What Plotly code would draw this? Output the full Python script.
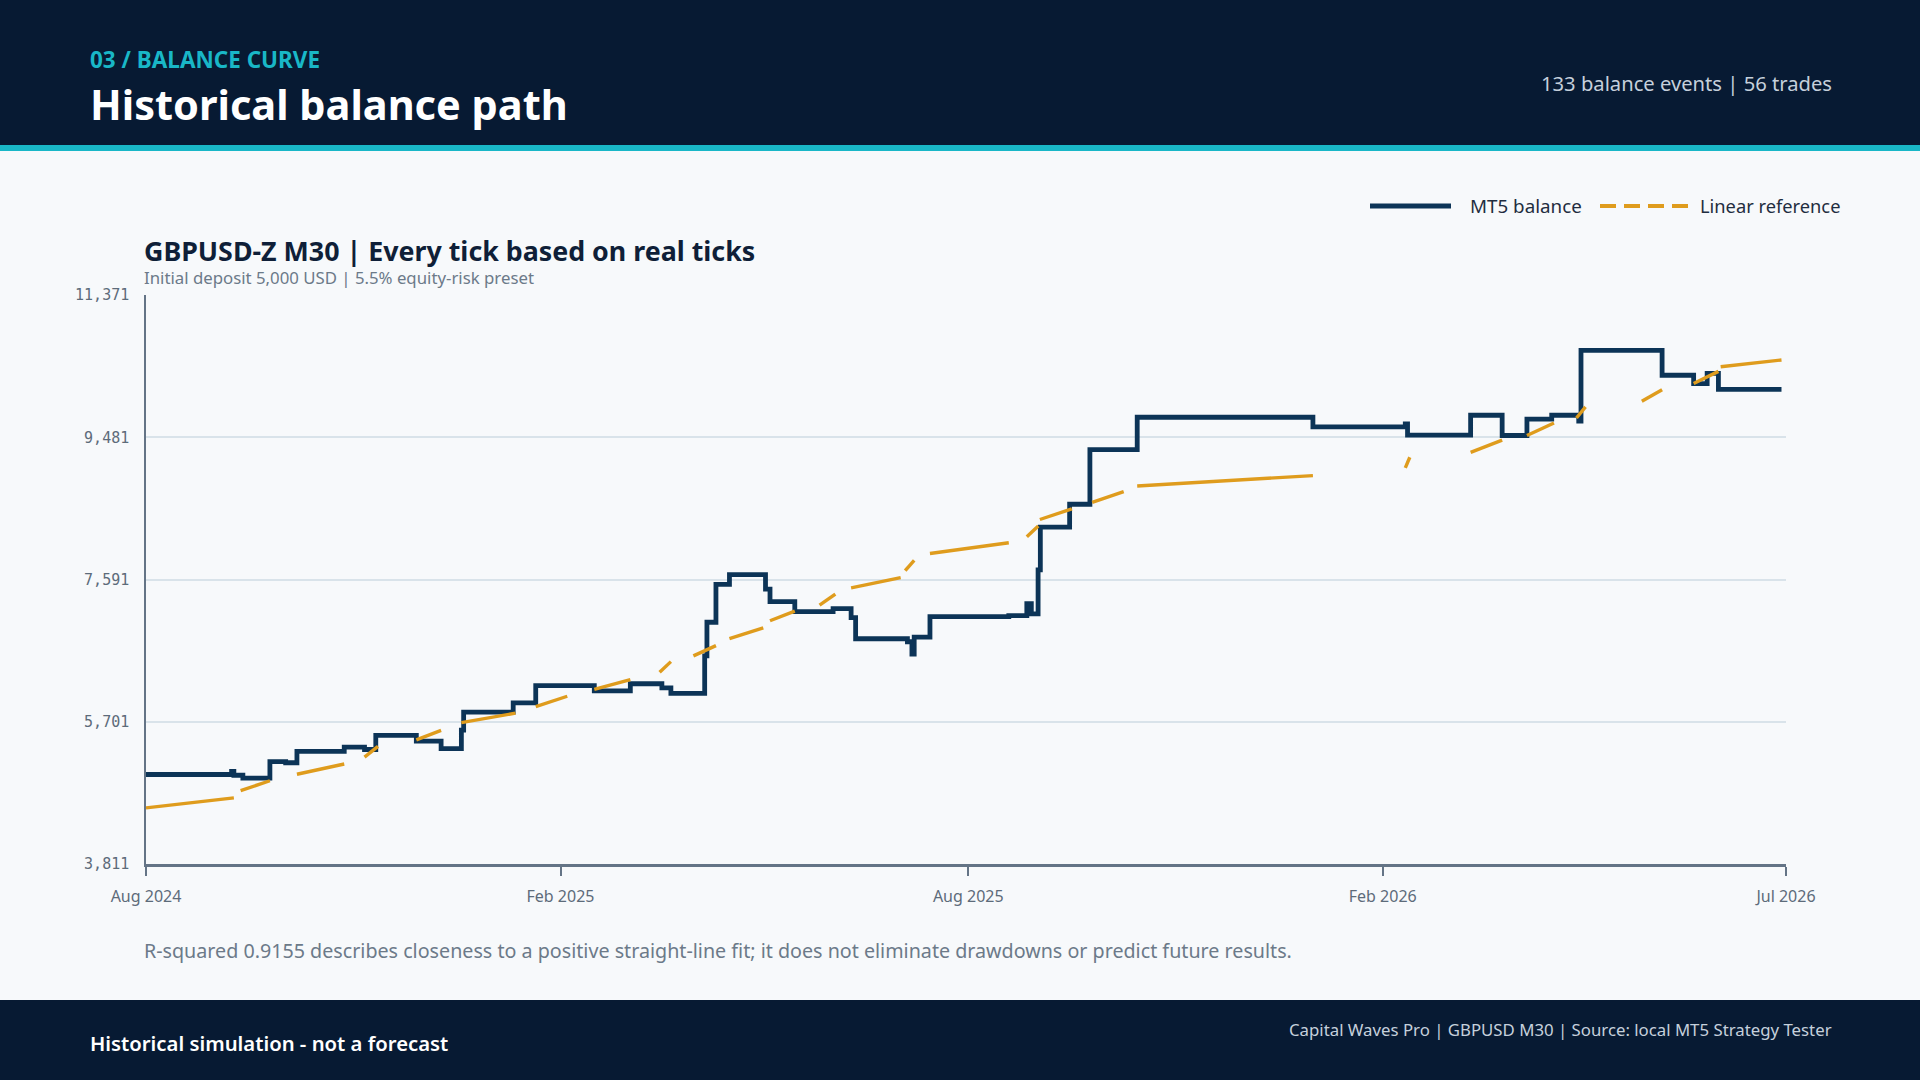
import plotly.graph_objects as go

# MT5 balance events (close dates and balance after each event)
balance_dates = [
    "2024-08-01", "2024-09-08", "2024-09-09", "2024-09-13", "2024-09-25",
    "2024-10-02", "2024-10-07", "2024-10-28", "2024-11-06", "2024-11-11",
    "2024-11-29", "2024-12-10", "2024-12-19", "2024-12-20", "2025-01-11",
    "2025-01-21", "2025-02-16", "2025-03-04", "2025-03-18", "2025-03-22",
    "2025-04-06", "2025-04-07", "2025-04-11", "2025-04-17", "2025-05-03",
    "2025-05-05", "2025-05-16", "2025-06-02", "2025-06-10", "2025-06-12",
    "2025-07-05", "2025-07-07", "2025-07-08", "2025-07-15", "2025-08-19",
    "2025-08-27", "2025-08-29", "2025-09-01", "2025-09-02", "2025-09-15",
    "2025-09-24", "2025-10-15", "2026-01-01", "2026-02-11", "2026-02-12",
    "2026-03-12", "2026-03-26", "2026-04-06", "2026-04-17", "2026-04-29",
    "2026-04-30", "2026-06-05", "2026-06-19", "2026-06-25", "2026-06-30",
    "2026-07-28",
]
balance_values = [
    5000, 5040, 4990, 4952, 5171,
    5156, 5307, 5363, 5332, 5520,
    5444, 5343, 5590, 5830, 5952,
    6181, 6112, 6206, 6150, 6079,
    6576, 7023, 7525, 7657, 7464,
    7297, 7165, 7205, 7084, 6804,
    6764, 6601, 6825, 7099, 7112,
    7271, 7134, 7718, 8286, 8591,
    9316, 9747, 9620, 9660, 9509,
    9773, 9504, 9722, 9773, 9697,
    10635, 10305, 10194, 10331, 10118,
    10118,
]

# linear reference: the visible dash pieces (start, end) as drawn on the chart
ref_start_dates = [
    "2024-08-01", "2024-09-12", "2024-10-07", "2024-11-06", "2024-11-29",
    "2024-12-19", "2025-01-21", "2025-02-16", "2025-03-17", "2025-04-01",
    "2025-04-17", "2025-05-05", "2025-05-27", "2025-06-10", "2025-07-04",
    "2025-07-15", "2025-08-27", "2025-09-01 19:00", "2025-09-25", "2025-10-15",
    "2026-02-11", "2026-03-12", "2026-04-06", "2026-04-28", "2026-05-27",
    "2026-06-19", "2026-07-01",
]
ref_end_dates = [
    "2024-09-09", "2024-09-25", "2024-10-28", "2024-11-12", "2024-12-10",
    "2025-01-12", "2025-02-04", "2025-03-04", "2025-03-22", "2025-04-11",
    "2025-05-02", "2025-05-16", "2025-06-03", "2025-07-02", "2025-07-08",
    "2025-08-19", "2025-09-01 02:00", "2025-09-16", "2025-10-09", "2026-01-01",
    "2026-02-13", "2026-03-26", "2026-04-18", "2026-05-02", "2026-06-05",
    "2026-06-30", "2026-07-28",
]
ref_start_values = [
    4557, 4785, 5003, 5232, 5460,
    5689, 5901, 6130, 6358, 6576,
    6804, 7043, 7251, 7479, 7708,
    7936, 8159, 8388, 8616, 8834,
    9073, 9281, 9504, 9737, 9960,
    10194, 10417,
]
ref_end_values = [
    4689, 4917, 5140, 5374, 5587,
    5815, 6040, 6262, 6500, 6713,
    6947, 7170, 7398, 7616, 7845,
    8080, 8301, 8530, 8758, 8971,
    9215, 9443, 9671, 9884, 10113,
    10356, 10508,
]

y_ticks = [3811, 5701, 7591, 9481, 11371]
x_tick_dates = ["2024-08-01", "2025-02-01", "2025-08-01", "2026-02-01", "2026-07-30"]
x_tick_labels = ["Aug 2024", "Feb 2025", "Aug 2025", "Feb 2026", "Jul 2026"]

NAVY = "#0c3457"
GOLD = "#df9c1d"
DARK = "#071a33"
TEAL = "#19b7c7"
BG = "#f7f9fb"
AXIS = "#647486"
MUTED = "#6c7a89"

# plot area in page pixels
L, R, T, B = 146, 1786, 295, 864


def px_x(x):
    return (x - L) / (R - L)


def px_y(y):
    return (B - y) / (B - T)


# dash pieces joined with gaps
ref_x, ref_y = [], []
for x0, x1, y0, y1 in zip(ref_start_dates, ref_end_dates, ref_start_values, ref_end_values):
    ref_x += [x0, x1, None]
    ref_y += [y0, y1, None]

fig = go.Figure()
fig.add_trace(go.Scatter(
    x=balance_dates, y=balance_values, mode="lines", name="MT5 balance",
    line=dict(color=NAVY, width=4.8, shape="hv"),
))
fig.add_trace(go.Scatter(
    x=ref_x, y=ref_y, mode="lines", name="Linear reference",
    line=dict(color=GOLD, width=3.4), connectgaps=False,
))

shapes = [
    # header band + teal rule
    dict(type="rect", xref="paper", yref="paper", x0=px_x(0), x1=px_x(1920),
         y0=px_y(145), y1=px_y(0), fillcolor=DARK, line_width=0, layer="below"),
    dict(type="rect", xref="paper", yref="paper", x0=px_x(0), x1=px_x(1920),
         y0=px_y(151), y1=px_y(145), fillcolor=TEAL, line_width=0, layer="below"),
    # footer band
    dict(type="rect", xref="paper", yref="paper", x0=px_x(0), x1=px_x(1920),
         y0=px_y(1080), y1=px_y(1000), fillcolor=DARK, line_width=0, layer="below"),
    # legend swatches
    dict(type="line", xref="paper", yref="paper", x0=px_x(1370), x1=px_x(1451),
         y0=px_y(206), y1=px_y(206), line=dict(color=NAVY, width=5)),
    dict(type="line", xref="paper", yref="paper", x0=px_x(1600), x1=px_x(1688),
         y0=px_y(206), y1=px_y(206), line=dict(color=GOLD, width=4, dash="16px,8px")),
]


def note(x, y, text, size, color, anchor="left", weight="normal", family="Noto Sans"):
    return dict(xref="paper", yref="paper", x=px_x(x), y=px_y(y), text=text,
                showarrow=False, xanchor=anchor, yanchor="middle",
                font=dict(family=family, size=size, color=color, weight=weight))


annotations = [
    note(88, 59, "03 / BALANCE CURVE", 22.5, TEAL, weight="bold"),
    note(88, 104, "Historical balance path", 41.5, "#ffffff", weight="bold"),
    note(1834, 83, "133 balance events | 56 trades", 20.2, "#c5d0dc", anchor="right"),
    note(1468, 206, "MT5 balance", 18.8, "#1f2d40"),
    note(1698, 206, "Linear reference", 18.3, "#1f2d40"),
    note(142, 250, "GBPUSD-Z M30 | Every tick based on real ticks", 26.8, "#0f1f38", weight="bold"),
    note(142, 277, "Initial deposit 5,000 USD | 5.5% equity-risk preset", 16.8, MUTED),
    note(142, 950, "R-squared 0.9155 describes closeness to a positive straight-line fit; "
                   "it does not eliminate drawdowns or predict future results.", 19.7, MUTED),
    note(88, 1043, "Historical simulation - not a forecast", 20.3, "#ffffff", weight=600),
    note(1834, 1029, "Capital Waves Pro | GBPUSD M30 | Source: local MT5 Strategy Tester",
         16.8, "#c5d0dc", anchor="right"),
]

fig.update_layout(
    width=1920, height=1080,
    margin=dict(l=L, r=1920 - R, t=T, b=1080 - B, pad=0),
    paper_bgcolor=BG, plot_bgcolor=BG,
    showlegend=False,
    shapes=shapes, annotations=annotations,
    font=dict(family="Noto Sans", color=MUTED),
    xaxis=dict(
        type="date", range=["2024-08-01", "2026-07-30"],
        tickvals=x_tick_dates, ticktext=x_tick_labels,
        showgrid=False, zeroline=False,
        showline=True, linecolor=AXIS, linewidth=3,
        ticks="outside", ticklen=9, tickwidth=1.5, tickcolor=AXIS,
        tickfont=dict(family="Noto Sans", size=16, color="#5d6b7a"),
        ticklabelstandoff=7,
    ),
    yaxis=dict(
        range=[3811, 11371], tickvals=y_ticks,
        ticktext=[f"{v:,}" for v in y_ticks],
        showgrid=True, gridcolor="#d9e3ea", gridwidth=1.5, zeroline=False,
        showline=True, linecolor=AXIS, linewidth=1.5,
        tickfont=dict(family="DejaVu Sans Mono", size=15, color="#5d6b7a"),
        ticklabelstandoff=12,
    ),
)

fig.write_html("out.html", config={"displayModeBar": False},
               post_script="document.body.style.margin='0';")
